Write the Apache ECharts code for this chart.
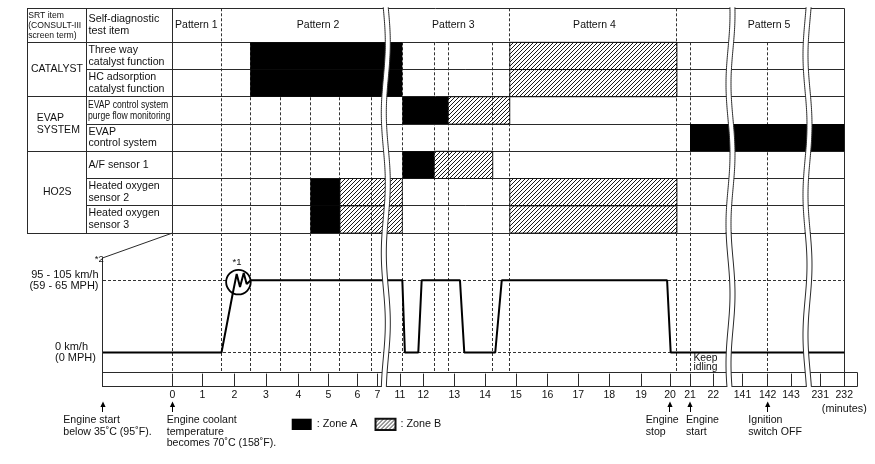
<!DOCTYPE html>
<html>
<head>
<meta charset="utf-8">
<script src="https://cdn.jsdelivr.net/npm/echarts@6.0.0/dist/echarts.min.js"></script>
<style>
html,body{margin:0;padding:0;background:#fff;}
#chart{width:875px;height:464px;}
</style>
</head>
<body>
<div id="chart"></div>
<script>
// ================= DATA =================
const tickLabels = ['0','1','2','3','4','5','6','7','11','12','13','14','15','16','17','18','19','20','21','22','141','142','143','231','232'];
const tickMinutes = tickLabels.map(Number);

const patternNames = ['Pattern 1','Pattern 2','Pattern 3','Pattern 4','Pattern 5'];
const patternCenters = [0.8, 4.66, 12.97, 17.52, 142.06];

const headerSrt = 'SRT item\n(CONSULT-III\nscreen term)';
const headerTest = 'Self-diagnostic\ntest item';

const srtItems = ['CATALYST', 'EVAP\nSYSTEM', 'HO2S'];
const srtFirstRow = [0, 2, 4];
const srtRowCount = [2, 2, 3];

const testItems = [
  'Three way\ncatalyst function',
  'HC adsorption\ncatalyst function',
  'EVAP control system\npurge flow monitoring',
  'EVAP\ncontrol system',
  'A/F sensor 1',
  'Heated oxygen\nsensor 2',
  'Heated oxygen\nsensor 3'
];

// Zone A (black): row index, start minute, end minute
const zoneARows  = [0, 1, 2, 3, 4, 5, 6];
const zoneAStart = [2.5, 2.5, 11.1, 21, 11.1, 4.4, 4.4];
const zoneAEnd   = [11.1, 11.1, 12.8, 232, 12.35, 5.4, 5.4];
// Zone B (hatched)
const zoneBRows  = [0, 1, 2, 4, 5, 6, 5, 6];
const zoneBStart = [14.8, 14.8, 12.8, 12.35, 5.4, 5.4, 14.8, 14.8];
const zoneBEnd   = [20.35, 20.35, 14.8, 14.25, 11.1, 11.1, 20.35, 20.35];
const zoneNames = [': Zone A', ': Zone B'];

// dashed time lines (minutes)
const patternBoundaries = [1.6, 14.8, 20.35];
const stepLines = [2.5, 3.45, 4.4, 5.4, 6.7, 11.1, 12.35, 12.8, 14.25, 21, 142];

// broken parts of the time axis (minutes)
const axisBreaks = [[7.35, 10.65], [22.6, 140.6], [143.6, 230.6]];

// vehicle speed trace (minutes, km/h)
const speedMinutes = [-2.3, 1.6, 1.96, 2.075, 2.18, 2.297, 2.39, 2.52, 11.1, 11.21, 11.785, 11.93, 13.185, 13.325, 14.33, 14.54, 19.9, 20.035, 232];
const speedValues  = [0, 0, 83.8, 108.7, 90.7, 110.1, 94.9, 100, 100, 0, 0, 100, 100, 0, 0, 100, 100, 0, 0];
const speedLevels = [0, 100];
const speedLabels = ['0 km/h\n(0 MPH)', '95 - 105 km/h\n(59 - 65 MPH)'];
const accelMark = [2.13, 97.5];
const accelNote = '*1';
const speedNote = '*2';
const idleMinute = 21, idleSpeed = -14, idleText = 'Keep\nidling';

const eventMinutes = [-2.3, 0, 20, 21, 142];
const eventTexts = [
  'Engine start\nbelow 35˚C (95˚F).',
  'Engine coolant\ntemperature\nbecomes 70˚C (158˚F).',
  'Engine\nstop',
  'Engine\nstart',
  'Ignition\nswitch OFF'
];
const unitText = '(minutes)';

// ================= AXIS SCALE (hand-drawn, uneven time axis) =================
const scaleMinutes = [-2.3,0,1,2,3,4,5,6,7,7.35,10.65,11,12,13,14,15,16,17,18,19,20,21,22,22.6,140.6,141,142,143,143.6,230.6,231,232,232.55];
const scaleSlots   = [-2.317,0,0.993,2.06,3.117,4.193,5.193,6.167,6.827,7.027,7.193,7.583,8.36,9.393,10.417,11.45,12.5,13.527,14.56,15.617,16.583,17.25,18.027,18.517,18.683,19.0,19.84,20.617,21.083,21.25,21.593,22.393,22.84];
function toV(m) {
  const M = scaleMinutes, S = scaleSlots;
  let i = 0;
  if (m >= M[M.length - 1]) i = M.length - 2;
  else if (m > M[0]) { while (m > M[i + 1]) i++; }
  return S[i] + (m - M[i]) * (S[i + 1] - S[i]) / (M[i + 1] - M[i]);
}
const X_MIN = scaleSlots[0], X_MAX = scaleSlots[scaleSlots.length - 1];
const HEADER_ROWS = 1.248;
const SPEED_MIN = -47.8, SPEED_MAX = 165.5, RULER_TOP = -28.4;

// ================= STYLE / LAYOUT =================
const FONT = '"Liberation Sans", Arial, Helvetica, sans-serif';
const INK = '#111';
const LINE = '#2a2a2a';
const DASH = [3, 2];
const TABLE_LEFT = 27, COL_SPLIT = 86, TEST_TEXT_X = 88.5;
const srtTextX = [57, 36.7, 57.2];
const srtTextAlign = ['center', 'left', 'center'];
const speedLabelX = [55, 98.5];
const speedLabelAlign = ['left', 'right'];
const eventTextDx = [-39.7, -5.8, -24.3, -4, -19.4];

const cr = v => Math.round(v - 0.5) + 0.5;
function L(x1, y1, x2, y2, o) {
  o = o || {};
  const vert = Math.abs(x1 - x2) < 0.01, hor = Math.abs(y1 - y2) < 0.01;
  return {
    type: 'line',
    shape: { x1: vert ? cr(x1) : x1, y1: hor ? cr(y1) : y1, x2: vert ? cr(x2) : x2, y2: hor ? cr(y2) : y2 },
    style: { stroke: o.c || LINE, lineWidth: o.w || 1, lineDash: o.dash || null, fill: null }
  };
}
function T(text, x, y, o) {
  o = o || {};
  const el = {
    type: 'text', x: x, y: y,
    style: {
      text: text, fill: o.fill || INK,
      font: (o.size || 10.6) + 'px ' + FONT,
      align: o.align || 'left', verticalAlign: o.va || 'middle',
      lineHeight: o.lh || 11.8
    }
  };
  if (o.sx) el.scaleX = o.sx;
  return el;
}

function makeHatch() {
  const c = document.createElement('canvas');
  c.width = 4; c.height = 4;
  const g = c.getContext('2d');
  g.strokeStyle = '#000'; g.lineWidth = 0.9;
  g.beginPath();
  g.moveTo(0, 4); g.lineTo(4, 0);
  g.moveTo(-1, 1); g.lineTo(1, -1);
  g.moveTo(3, 5); g.lineTo(5, 3);
  g.stroke();
  return c;
}
const hatch = { image: makeHatch(), repeat: 'repeat' };

function custom(gridIdx, z, data, renderItem, extra) {
  return Object.assign({
    type: 'custom', xAxisIndex: gridIdx, yAxisIndex: gridIdx, z: z,
    clip: false, silent: true, data: data, renderItem: renderItem
  }, extra || {});
}

// ---------- table ----------
function tableLines(p, api) {
  const yTop = api.coord([0, -HEADER_ROWS])[1], y0 = api.coord([0, 0])[1], yBot = api.coord([0, 7])[1];
  const ch = [];
  patternBoundaries.forEach(m => { const x = api.coord([toV(m), 0])[0]; ch.push(L(x, yTop, x, yBot, { dash: DASH, c: '#333' })); });
  stepLines.forEach(m => { const x = api.coord([toV(m), 0])[0]; ch.push(L(x, y0, x, yBot, { dash: DASH, c: '#333' })); });
  return { type: 'group', children: ch };
}
function tableFrame(p, api) {
  const Y = r => api.coord([0, r])[1];
  const x0 = api.coord([toV(0), 0])[0], xR = api.coord([toV(232), 0])[0];
  const yTop = Y(-HEADER_ROWS), yBot = Y(7);
  const ch = [];
  ch.push(L(TABLE_LEFT, yTop, xR, yTop));
  ch.push(L(TABLE_LEFT, yBot, xR, yBot));
  ch.push(L(TABLE_LEFT, yTop, TABLE_LEFT, yBot));
  ch.push(L(COL_SPLIT, yTop, COL_SPLIT, yBot));
  ch.push(L(x0, yTop, x0, yBot));
  ch.push(L(xR, yTop, xR, yBot));
  for (let r = 0; r < 7; r++) {
    const full = srtFirstRow.indexOf(r) >= 0;
    ch.push(L(full ? TABLE_LEFT : COL_SPLIT, Y(r), xR, Y(r)));
  }
  return { type: 'group', children: ch };
}
function zoneRect(rows, starts, ends, style) {
  return function (p, api) {
    const i = p.dataIndex;
    const a = api.coord([toV(starts[i]), rows[i]]);
    const b = api.coord([toV(ends[i]), rows[i] + 1]);
    return { type: 'rect', shape: { x: a[0], y: a[1], width: b[0] - a[0], height: b[1] - a[1] }, style: style };
  };
}
function tableText(p, api) {
  const Y = r => api.coord([0, r])[1];
  const ch = [];
  const hy = (Y(-HEADER_ROWS) + Y(0)) / 2;
  ch.push(T(headerSrt, TABLE_LEFT + 1.2, hy, { size: 9.4, lh: 10.3, sx: 0.92 }));
  ch.push(T(headerTest, TEST_TEXT_X, hy, { size: 10.8, lh: 11.6 }));
  patternNames.forEach((n, i) => ch.push(T(n, api.coord([toV(patternCenters[i]), 0])[0], hy, { align: 'center', size: 10.5 })));
  srtItems.forEach((n, i) => {
    const yc = (Y(srtFirstRow[i]) + Y(srtFirstRow[i] + srtRowCount[i])) / 2;
    ch.push(T(n, srtTextX[i], yc, { align: srtTextAlign[i], size: 10.5, lh: 11.8 }));
  });
  testItems.forEach((n, i) => {
    const yc = (Y(i) + Y(i + 1)) / 2;
    if (i === 2) ch.push(T(n, TEST_TEXT_X - 0.5, yc + 0.5, { size: 10, lh: 10.7, sx: 0.86 }));
    else ch.push(T(n, TEST_TEXT_X, yc, { size: 10.6, lh: 11.8 }));
  });
  return { type: 'group', children: ch };
}
function breakBand(p, api) {
  const cs = p.coordSys;
  const i = p.dataIndex;
  const xa = api.coord([toV(axisBreaks[i][0]), 0])[0], xb = api.coord([toV(axisBreaks[i][1]), 0])[0];
  const xm = (xa + xb) / 2;
  const y0 = cs.y - 1, y1 = cs.y + cs.height;
  const left = [], right = [];
  const wave = y => 2 * Math.sin((y - 8) / 140 * 2 * Math.PI + i * 1.3);
  for (let y = y0; y < y1; y += 2) { left.push([xm - 2.5 + wave(y), y]); right.push([xm + 2.5 + wave(y), y]); }
  left.push([xm - 2.5 + wave(y1), y1]); right.push([xm + 2.5 + wave(y1), y1]);
  return { type: 'group', children: [
    { type: 'polygon', shape: { points: left.concat(right.slice().reverse()) }, style: { fill: '#fff', stroke: null } },
    { type: 'polyline', shape: { points: left }, style: { stroke: LINE, lineWidth: 1, fill: null } },
    { type: 'polyline', shape: { points: right }, style: { stroke: LINE, lineWidth: 1, fill: null } }
  ] };
}

// ---------- speed panel ----------
function speedGrid(p, api) {
  const cs = p.coordSys;
  const yTop = cs.y, yR = api.coord([0, RULER_TOP])[1];
  const ch = [];
  [0].concat(patternBoundaries, stepLines).forEach(m => {
    const x = api.coord([toV(m), 0])[0];
    ch.push(L(x, yTop, x, yR, { dash: DASH, c: '#333' }));
  });
  const xl = api.coord([X_MIN, 0])[0], xr = api.coord([toV(232), 0])[0];
  speedLevels.forEach(s => { const y = api.coord([0, s])[1]; ch.push(L(xl, y, xr, y, { dash: DASH, c: '#333' })); });
  return { type: 'group', children: ch };
}
function speedFrame(p, api) {
  const cs = p.coordSys;
  const xl = api.coord([X_MIN, 0])[0], xe = api.coord([X_MAX, 0])[0];
  const x0 = api.coord([toV(0), 0])[0], xr = api.coord([toV(232), 0])[0];
  const yTop = cs.y, yBot = cs.y + cs.height, yR = api.coord([0, RULER_TOP])[1];
  const yKnee = api.coord([0, 130.9])[1];
  return { type: 'group', children: [
    { type: 'polyline', shape: { points: [[cr(xl), yBot], [cr(xl), yKnee], [x0, yTop]] }, style: { stroke: LINE, lineWidth: 1, fill: null } },
    L(xr, yTop, xr, yBot),
    { type: 'rect', shape: { x: cr(xl), y: cr(yR), width: Math.round(xe - xl), height: Math.round(yBot - yR) }, style: { fill: null, stroke: LINE, lineWidth: 1 } }
  ] };
}
function accelCircle(p, api) {
  const c = api.coord([toV(accelMark[0]), accelMark[1]]);
  return { type: 'circle', shape: { cx: c[0], cy: c[1], r: 12.3 }, style: { fill: '#fff', stroke: '#000', lineWidth: 1.8 } };
}
function speedNotes(p, api) {
  const cs = p.coordSys;
  const base = cs.y + cs.height;
  const ch = [];
  speedLevels.forEach((s, i) => {
    const y = api.coord([0, s])[1];
    ch.push(T(speedLabels[i], speedLabelX[i], y, { align: speedLabelAlign[i], size: 11, lh: 11 }));
  });
  const y100 = api.coord([0, 100])[1];
  ch.push(T(speedNote, 99.3, y100 - 21, { align: 'center', size: 9.5 }));
  const c = api.coord([toV(accelMark[0]), accelMark[1]]);
  ch.push(T(accelNote, c[0] - 1.5, c[1] - 19.5, { align: 'center', size: 9.5 }));
  const ki = api.coord([toV(idleMinute), idleSpeed]);
  ch.push(T(idleText, ki[0] + 3.5, ki[1], { size: 10.3, lh: 8.8 }));
  eventMinutes.forEach((m, i) => {
    const x = api.coord([toV(m), 0])[0];
    ch.push({ type: 'polygon', shape: { points: [[x, base + 14.5], [x - 2.6, base + 20], [x + 2.6, base + 20]] }, style: { fill: '#000' } });
    ch.push(L(x, base + 19, x, base + 25, { c: '#000' }));
    ch.push(T(eventTexts[i], x + eventTextDx[i], base + 27.5, { va: 'top', size: 10.6, lh: 11.5 }));
  });
  const xu = api.coord([toV(232), 0])[0];
  ch.push(T(unitText, xu, base + 22.3, { align: 'center', size: 10.8 }));
  return { type: 'group', children: ch };
}

const tickV = tickMinutes.map(toV);

const chart = echarts.init(document.getElementById('chart'), null, { renderer: 'canvas', width: 875, height: 464 });
const option = {
  animation: false,
  backgroundColor: '#fff',
  textStyle: { fontFamily: FONT },
  grid: [
    { left: 103, right: 875 - 857.7, top: 8.3, height: 224.7, outerBoundsMode: 'none', containLabel: false },
    { left: 103, right: 875 - 857.7, top: 233, height: 154, outerBoundsMode: 'none', containLabel: false }
  ],
  xAxis: [
    { gridIndex: 0, type: 'value', min: X_MIN, max: X_MAX, show: false },
    {
      gridIndex: 1, type: 'value', min: X_MIN, max: X_MAX, position: 'bottom',
      axisLine: { show: false, onZero: false }, splitLine: { show: false },
      axisTick: { show: true, inside: true, length: 13.4, customValues: tickV, lineStyle: { color: LINE, width: 1 } },
      axisLabel: {
        customValues: tickV, margin: 3, fontSize: 10.5, color: INK, fontFamily: FONT, hideOverlap: false,
        formatter: v => { for (let i = 0; i < tickV.length; i++) if (Math.abs(tickV[i] - v) < 1e-6) return tickLabels[i]; return ''; }
      }
    }
  ],
  yAxis: [
    { gridIndex: 0, type: 'value', inverse: true, min: -HEADER_ROWS, max: 7, show: false },
    { gridIndex: 1, type: 'value', min: SPEED_MIN, max: SPEED_MAX, show: false }
  ],
  legend: {
    left: 291.7, top: 417.7, padding: 0, itemWidth: 20, itemHeight: 11.3, itemGap: 17,
    icon: 'rect', selectedMode: false,
    textStyle: { fontFamily: FONT, fontSize: 10.8, color: INK },
    data: zoneNames
  },
  series: [
    custom(0, 1, [[0, 0]], tableLines),
    custom(0, 1, [[0, 0]], tableFrame),
    custom(0, 2, zoneARows.map((r, i) => [toV(zoneAStart[i]), r]), zoneRect(zoneARows, zoneAStart, zoneAEnd, { fill: '#000' }),
      { name: zoneNames[0], itemStyle: { color: '#000' } }),
    custom(0, 2, zoneBRows.map((r, i) => [toV(zoneBStart[i]), r]), zoneRect(zoneBRows, zoneBStart, zoneBEnd, { fill: hatch, stroke: '#111', lineWidth: 0.8 }),
      { name: zoneNames[1], itemStyle: { color: hatch, borderColor: '#111', borderWidth: 1 } }),
    custom(0, 4, [[0, 0]], tableText),
    custom(0, 6, axisBreaks.map((b, i) => [toV(b[0]), 0]), breakBand),
    custom(1, 1, [[0, 0]], speedGrid),
    custom(1, 3, [[0, 0]], speedFrame),
    custom(1, 4, [[toV(accelMark[0]), accelMark[1]]], accelCircle),
    {
      type: 'line', xAxisIndex: 1, yAxisIndex: 1, z: 5, silent: true,
      data: speedMinutes.map((m, i) => [toV(m), speedValues[i]]),
      showSymbol: false, symbol: 'none', lineStyle: { color: '#000', width: 2 }, clip: false
    },
    custom(1, 6, [[0, 0]], speedNotes),
    custom(1, 7, axisBreaks.map((b, i) => [toV(b[0]), 0]), breakBand)
  ]
};
chart.setOption(option);
</script>
</body>
</html>
